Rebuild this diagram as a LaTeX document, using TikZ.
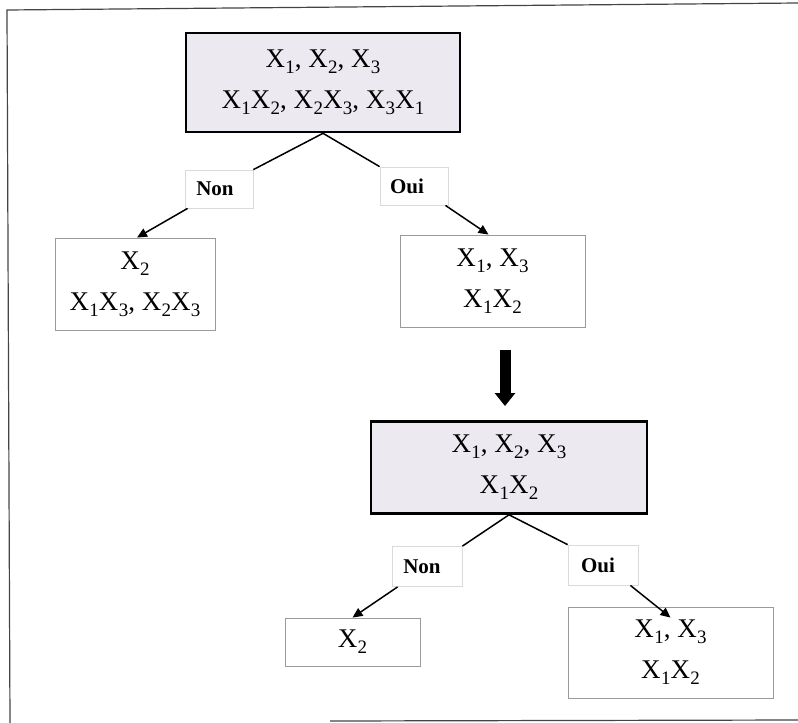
\documentclass[tikz,border=0pt]{standalone}
\usepackage{fontspec}
\setmainfont{Liberation Serif}
\usetikzlibrary{arrows.meta}
% X with a large, low index, as in the printed tables
\newcommand\Xs[1]{X\kern0.3pt\raisebox{-6pt}{\fontsize{19}{19}\selectfont #1}}
\definecolor{testfill}{HTML}{ECEAF0}
\definecolor{leafedge}{HTML}{9A9A9A}
\definecolor{tagedge}{HTML}{DADADA}
\definecolor{frameline}{HTML}{444444}
\tikzset{
  testbox/.style={draw=black, line width=2.6pt, fill=testfill, align=center,
    inner sep=0pt, font=\fontsize{27}{41}\selectfont},
  leafbox/.style={draw=leafedge, line width=0.9pt, fill=white, align=center,
    inner sep=0pt, font=\fontsize{27}{41}\selectfont},
  tagbox/.style={draw=tagedge, line width=0.8pt, fill=white, inner sep=0pt,
    minimum width=68pt, minimum height=38pt, font=\fontsize{21}{24}\selectfont\bfseries},
  branch/.style={line width=1.5pt},
  choice/.style={line width=1.5pt, -{Triangle[length=10pt,width=9pt]}},
  bigarrow/.style={line width=11pt, -{Triangle[length=13pt,width=20pt]}},
}
\begin{document}
\begin{tikzpicture}[x=1pt,y=-1pt]
\useasboundingbox (0,0) rectangle (798,723);

% outer frame
\draw[frameline, line width=1.2pt] (10,723) -- (7,10) -- (798,3);
\draw[frameline, line width=1.2pt] (330,721) -- (798,720);

% first tree
\node[testbox, minimum width=274pt, minimum height=99pt] (top) at (323,82.5)
  {\Xs1, \Xs2, \Xs3\\\Xs1\Xs2, \Xs2\Xs3, \Xs3\Xs1};
\node[tagbox] (non1) at (219,189) {Non\hspace*{8pt}};
\node[tagbox] (oui1) at (414,186) {Oui\hspace*{14pt}};
\node[leafbox, minimum width=160pt, minimum height=92pt] (left1) at (135,284)
  {\Xs2\\\Xs1\Xs3, \Xs2\Xs3};
\node[leafbox, minimum width=185pt, minimum height=92pt] (right1) at (492.5,281)
  {\Xs1, \Xs3\\\Xs1\Xs2};

\draw[branch] (top.south) -- (non1.north east);
\draw[branch] (top.south) -- (oui1.north west);
\draw[choice] ([xshift=3pt]non1.south west) -- ([xshift=2pt]left1.north);
\draw[choice] ([xshift=-3pt]oui1.south east) -- ([xshift=-4pt]right1.north);

% step to the reduced problem
\coordinate (stepfrom) at (505,350);
\coordinate (stepto) at (505,406);
\draw[bigarrow] (stepfrom) -- (stepto);

% second tree
\node[testbox, minimum width=276pt, minimum height=92pt] (mid) at (509,467.5)
  {\Xs1, \Xs2, \Xs3\\\Xs1\Xs2};
\node[tagbox, minimum width=70pt, minimum height=40pt] (non2) at (427,566.5) {Non\hspace*{10pt}};
\node[tagbox, minimum width=70pt, minimum height=40pt] (oui2) at (603,565) {Oui\hspace*{10pt}};
\node[leafbox, minimum width=135pt, minimum height=48pt] (left2) at (352.5,642) {\Xs2};
\node[leafbox, minimum width=205pt, minimum height=91pt] (right2) at (670.5,652.5)
  {\Xs1, \Xs3\\\Xs1\Xs2};

\draw[branch] (mid.south) -- (non2.north east);
\draw[branch] (mid.south) -- (oui2.north west);
\draw[choice] ([xshift=6pt]non2.south west) -- (left2.north);
\draw[choice] ([xshift=-8pt]oui2.south east) -- (left2.north -| right2.north);
\end{tikzpicture}
\end{document}
